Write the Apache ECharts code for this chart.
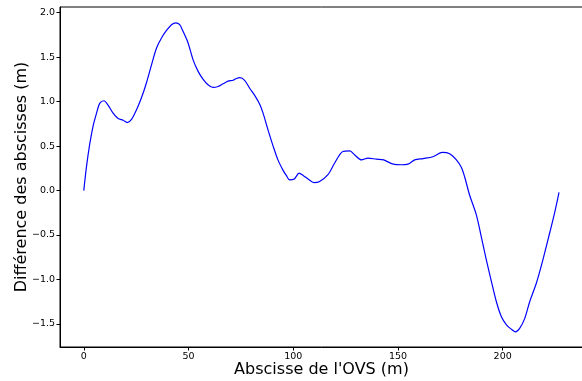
<!DOCTYPE html>
<html>
<head>
<meta charset="utf-8">
<script src="https://cdn.jsdelivr.net/npm/echarts@6/dist/echarts.min.js"></script>
<style>
  html, body { margin: 0; padding: 0; background: #fff; }
  #chart { width: 582px; height: 381px; }
</style>
</head>
<body>
<div id="chart"></div>
<script>
// Abscisse le long de l'OVS (m)
const abscisse = [
  0, 1.3, 2.9, 4.4, 6.1, 7.6, 9.7, 11.6, 14, 16.4, 18.8, 20.8, 22.8, 25.2, 27.5,
  29.9, 32.3, 34.7, 37.1, 39.5, 41.9, 43.9, 45.8, 47.4, 49.8, 52.2, 54.6, 57.0,
  59.3, 61.7, 64.1, 66.5, 68.9, 71.3, 72.9, 74.5, 76.8, 79.2, 81.6, 84.0, 85.6,
  88.0, 90.4, 92.7, 95.1, 96.7, 98.3, 100.5, 102.8, 104.7, 107.1, 109.9, 112.4,
  116.6, 119.8, 123.7, 127.0, 129.4, 132.6, 135.7, 139.7, 143.2, 147.3, 151.6,
  154.8, 158.0, 162.0, 166.7, 171.2, 174.7, 177.9, 180.3, 181.9, 184.2, 187.4,
  189.8, 192.2, 194.6, 197.0, 199.4, 201.8, 204.2, 206.1, 208.1, 210.5, 212.9,
  216.1, 219.2, 222.4, 224.8, 226.9
];
// Différence des abscisses (m)
const difference = [
  0, 0.27, 0.53, 0.72, 0.87, 0.98, 1.01, 0.96, 0.87, 0.81, 0.79, 0.765, 0.80,
  0.91, 1.04, 1.21, 1.41, 1.60, 1.715, 1.80, 1.865, 1.885, 1.865, 1.79, 1.66,
  1.47, 1.34, 1.25, 1.19, 1.16, 1.17, 1.20, 1.23, 1.24, 1.26, 1.27, 1.24, 1.15,
  1.07, 0.97, 0.87, 0.68, 0.50, 0.345, 0.23, 0.17, 0.12, 0.13, 0.195, 0.17, 0.13,
  0.09, 0.10, 0.18, 0.31, 0.44, 0.447, 0.40, 0.345, 0.365, 0.353, 0.345, 0.30,
  0.29, 0.297, 0.345, 0.36, 0.38, 0.43, 0.415, 0.345, 0.26, 0.15, -0.05, -0.27,
  -0.52, -0.78, -1.02, -1.25, -1.42, -1.51, -1.56, -1.59, -1.55, -1.44, -1.25,
  -1.04, -0.78, -0.48, -0.25, -0.02
];
const xTicks = [0, 50, 100, 150, 200];
const yTicks = [-1.5, -1.0, -0.5, 0.0, 0.5, 1.0, 1.5, 2.0];

const points = abscisse.map((x, i) => [x, difference[i]]);
const font = 'DejaVu Sans';

const chart = echarts.init(document.getElementById('chart'), null, { renderer: 'canvas' });
chart.setOption({
  animation: false,
  backgroundColor: '#ffffff',
  grid: {
    left: 60, top: 7, width: 523, height: 340,
    outerBoundsMode: 'none',
    containLabel: false,
    show: true, borderColor: '#000', borderWidth: 1, backgroundColor: 'transparent'
  },
  xAxis: {
    type: 'value',
    min: -11.35, max: 238.35,
    name: "Abscisse de l'OVS (m)",
    nameLocation: 'middle',
    nameGap: 15,
    nameMoveOverlap: false,
    nameTextStyle: { fontFamily: font, fontSize: 16, color: '#000' },
    axisLine: { show: true, onZero: false, lineStyle: { color: '#000', width: 1 } },
    axisTick: { show: true, inside: false, length: 3.5, customValues: xTicks, lineStyle: { color: '#000' } },
    axisLabel: {
      customValues: xTicks, margin: 5, fontFamily: font, fontSize: 9.5, color: '#000',
      formatter: v => String(v)
    },
    splitLine: { show: false }
  },
  yAxis: {
    type: 'value',
    min: -1.759, max: 2.064,
    name: 'Différence des abscisses (m)',
    nameLocation: 'middle',
    nameGap: 30,
    nameMoveOverlap: false,
    nameRotate: 90,
    nameTextStyle: { fontFamily: font, fontSize: 16, color: '#000' },
    axisLine: { show: true, onZero: false, lineStyle: { color: '#000', width: 1 } },
    axisTick: { show: true, inside: false, length: 3.5, customValues: yTicks, lineStyle: { color: '#000' } },
    axisLabel: {
      customValues: yTicks, margin: 5, fontFamily: font, fontSize: 9.5, color: '#000',
      formatter: v => v.toFixed(1).replace('-', '\u2212')
    },
    splitLine: { show: false }
  },
  series: [{
    type: 'line',
    data: points,
    smooth: 0.3,
    showSymbol: false,
    lineStyle: { color: '#0000ff', width: 1.2 },
    clip: true
  }]
});
</script>
</body>
</html>
